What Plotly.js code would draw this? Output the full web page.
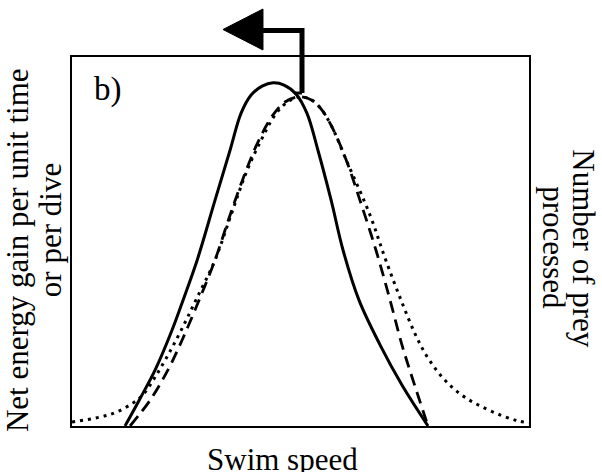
<!DOCTYPE html>
<html>
<head>
<meta charset="utf-8">
<script src="https://cdn.plot.ly/plotly-3.0.1.min.js"></script>
<style>
  html, body { margin: 0; padding: 0; background: #ffffff; }
  #chart { width: 602px; height: 472px; }
</style>
</head>
<body>
<div id="chart"></div>
<script>
// Swim speed (arbitrary units, 0-100) and response curves (arbitrary units, 0-100)

// Net energy gain per unit time (solid)
const energySpeed = [11.6, 14.7, 18.2, 21.9, 24.3, 27.4, 31.3, 34.6, 37.0, 39.2, 41.6, 44.0, 46.4, 49.0, 51.4, 53.8, 56.7, 59.3, 62.8, 67.4, 72.2, 77.9];
const energyGain  = [0.0, 7.0, 15.2, 26.0, 34.1, 45.0, 61.2, 74.8, 84.8, 89.7, 92.1, 93.0, 92.4, 90.0, 84.8, 74.8, 61.2, 47.7, 34.1, 22.0, 11.1, 0.0];

// Net energy gain per dive (dashed)
const diveSpeed = [12.7, 17.1, 21.0, 24.1, 27.8, 31.3, 34.6, 37.9, 40.9, 44.0, 46.6, 49.5, 52.5, 54.7, 56.9, 60.0, 63.0, 66.5, 69.6, 72.2, 74.6, 77.9];
const diveGain  = [0.0, 7.0, 15.2, 23.3, 34.1, 45.0, 57.2, 68.6, 77.5, 84.3, 87.8, 89.2, 88.3, 85.6, 81.0, 72.1, 61.2, 47.7, 34.1, 22.0, 12.5, 0.0];

// Number of prey processed (dotted)
const preySpeed = [0.0, 6.1, 9.8, 13.3, 15.5, 18.2, 21.0, 23.9, 27.1, 31.3, 34.8, 38.1, 41.4, 44.6, 47.5, 49.9, 52.5, 54.7, 56.9, 60.0, 65.2, 68.5, 72.0, 75.1, 77.5, 80.1, 82.9, 86.2, 90.2, 94.3, 97.6, 100.0];
const preyCount = [1.1, 2.4, 3.8, 6.2, 8.4, 13.3, 19.2, 26.0, 34.1, 45.0, 57.2, 68.6, 77.5, 84.6, 88.1, 89.2, 88.3, 85.6, 81.0, 72.1, 57.2, 45.5, 34.1, 24.9, 19.2, 14.6, 10.8, 7.6, 4.9, 2.7, 1.4, 0.8];

const serif = 'Liberation Serif, Times New Roman, serif';

const traces = [
  {
    x: preySpeed, y: preyCount, type: 'scatter', mode: 'lines',
    line: { color: '#000', width: 3, dash: '3px,5px', shape: 'spline', smoothing: 1 },
    hoverinfo: 'skip'
  },
  {
    x: diveSpeed, y: diveGain, type: 'scatter', mode: 'lines',
    line: { color: '#000', width: 2.8, dash: '12px,7px', shape: 'spline', smoothing: 1 },
    hoverinfo: 'skip'
  },
  {
    x: energySpeed, y: energyGain, type: 'scatter', mode: 'lines',
    line: { color: '#000', width: 3, shape: 'spline', smoothing: 1 },
    hoverinfo: 'skip'
  }
];

const axisStyle = {
  showline: true, mirror: true, linecolor: '#000', linewidth: 2,
  showgrid: false, zeroline: false, ticks: '', showticklabels: false,
  fixedrange: true
};

const textFont = { family: serif, size: 31, color: '#000' };

const layout = {
  width: 602, height: 472,
  margin: { l: 72, r: 73, t: 57, b: 46, pad: 0 },
  paper_bgcolor: '#fff', plot_bgcolor: '#fff',
  showlegend: false,
  xaxis: Object.assign({ range: [0, 100] }, axisStyle),
  yaxis: Object.assign({ range: [0, 100] }, axisStyle),
  annotations: [
    { text: 'b)', xref: 'paper', yref: 'paper', x: 0.044, y: 0.913,
      xanchor: 'left', yanchor: 'middle', showarrow: false,
      font: { family: serif, size: 33, color: '#000' } },
    { text: 'Swim speed', xref: 'paper', yref: 'paper', x: 0.4617, y: -0.090,
      xanchor: 'center', yanchor: 'middle', showarrow: false, font: textFont },
    { text: 'Net energy gain per unit time', xref: 'paper', yref: 'paper', x: -0.118, y: 0.477,
      xanchor: 'center', yanchor: 'middle', textangle: -90, showarrow: false, font: textFont },
    { text: 'or per dive', xref: 'paper', yref: 'paper', x: -0.048, y: 0.531,
      xanchor: 'center', yanchor: 'middle', textangle: -90, showarrow: false, font: textFont },
    { text: 'Number of prey', xref: 'paper', yref: 'paper', x: 1.120, y: 0.482,
      xanchor: 'center', yanchor: 'middle', textangle: 90, showarrow: false, font: textFont },
    { text: 'processed', xref: 'paper', yref: 'paper', x: 1.0545, y: 0.482,
      xanchor: 'center', yanchor: 'middle', textangle: 90, showarrow: false, font: textFont }
  ],
  shapes: [
    // bent arrow pointing to lower swim speeds
    { type: 'path', xref: 'paper', yref: 'paper', layer: 'above',
      path: 'M 0.5033,0.9024 L 0.5033,1.0718 L 0.4179,1.0718',
      line: { color: '#000', width: 5 } },
    { type: 'path', xref: 'paper', yref: 'paper', layer: 'above',
      path: 'M 0.4858,0.9024 L 0.5033,0.9024',
      line: { color: '#000', width: 3 } },
    { type: 'path', xref: 'paper', yref: 'paper', layer: 'above',
      path: 'M 0.3304,1.0745 L 0.4179,1.1301 L 0.4179,1.0190 Z',
      fillcolor: '#000', line: { color: '#000', width: 1 } }
  ]
};

Plotly.newPlot('chart', traces, layout, { displayModeBar: false, staticPlot: true });
</script>
</body>
</html>
